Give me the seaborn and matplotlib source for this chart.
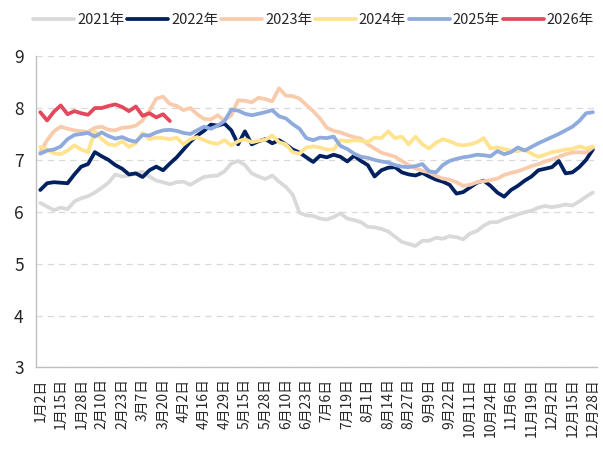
import matplotlib
matplotlib.use("Agg")
import matplotlib.pyplot as plt
import numpy as np
import pandas as pd
import seaborn as sns

# %% Data (one value every ~3 trading days)
tick_labels = ["1月2日", "1月15日", "1月28日", "2月10日", "2月23日", "3月7日", "3月20日",
               "4月2日", "4月16日", "4月29日", "5月15日", "5月28日", "6月10日", "6月23日",
               "7月6日", "7月19日", "8月1日", "8月14日", "8月27日", "9月9日", "9月22日",
               "10月11日", "10月24日", "11月6日", "11月19日", "12月2日", "12月15日", "12月28日"]

y2021 = [6.17, 6.10, 6.03, 6.08, 6.05, 6.20, 6.26, 6.30, 6.37, 6.46, 6.56, 6.72, 6.68, 6.70,
         6.74, 6.77, 6.68, 6.60, 6.57, 6.53, 6.57, 6.58, 6.52, 6.60, 6.67, 6.69, 6.70, 6.78,
         6.93, 6.98, 6.90, 6.74, 6.68, 6.63, 6.70, 6.58, 6.48, 6.33, 5.98, 5.93, 5.92, 5.87,
         5.85, 5.90, 5.97, 5.87, 5.84, 5.80, 5.71, 5.70, 5.67, 5.62, 5.52, 5.42, 5.38, 5.34,
         5.44, 5.44, 5.50, 5.48, 5.53, 5.51, 5.47, 5.58, 5.63, 5.73, 5.80, 5.80, 5.86, 5.90,
         5.95, 5.99, 6.02, 6.08, 6.11, 6.09, 6.11, 6.14, 6.12, 6.20, 6.29, 6.37]

y2022 = [6.42, 6.55, 6.57, 6.56, 6.55, 6.72, 6.87, 6.92, 7.15, 7.07, 7.00, 6.90, 6.83, 6.72,
         6.74, 6.67, 6.80, 6.87, 6.80, 6.93, 7.05, 7.20, 7.35, 7.47, 7.56, 7.68, 7.66, 7.70,
         7.57, 7.30, 7.55, 7.30, 7.36, 7.40, 7.32, 7.38, 7.30, 7.20, 7.14, 7.05, 6.96, 7.08,
         7.05, 7.10, 7.06, 6.97, 7.08, 6.98, 6.90, 6.68, 6.80, 6.85, 6.86, 6.76, 6.72, 6.70,
         6.75, 6.68, 6.62, 6.58, 6.52, 6.35, 6.38, 6.47, 6.56, 6.60, 6.50, 6.37, 6.29, 6.42,
         6.50, 6.60, 6.68, 6.80, 6.83, 6.86, 6.98, 6.74, 6.76, 6.86, 7.00, 7.20]

y2023 = [7.15, 7.38, 7.55, 7.64, 7.60, 7.57, 7.55, 7.54, 7.62, 7.64, 7.58, 7.57, 7.62, 7.63,
         7.66, 7.76, 7.95, 8.18, 8.22, 8.08, 8.04, 7.96, 8.00, 7.88, 7.79, 7.78, 7.86, 7.76,
         7.86, 8.15, 8.14, 8.11, 8.20, 8.17, 8.13, 8.38, 8.24, 8.23, 8.18, 8.06, 7.94, 7.80,
         7.62, 7.56, 7.53, 7.48, 7.44, 7.41, 7.30, 7.22, 7.14, 7.10, 7.06, 6.98, 6.90, 6.84,
         6.79, 6.76, 6.69, 6.64, 6.62, 6.57, 6.50, 6.52, 6.57, 6.59, 6.61, 6.64, 6.71, 6.75,
         6.78, 6.83, 6.88, 6.92, 6.97, 7.01, 7.06, 7.11, 7.14, 7.15, 7.14, 7.24]

y2024 = [7.25, 7.20, 7.13, 7.11, 7.18, 7.28, 7.20, 7.15, 7.55, 7.40, 7.30, 7.28, 7.36, 7.25,
         7.32, 7.52, 7.40, 7.43, 7.42, 7.40, 7.43, 7.30, 7.40, 7.44, 7.38, 7.33, 7.31, 7.38,
         7.28, 7.36, 7.40, 7.34, 7.37, 7.39, 7.47, 7.34, 7.30, 7.15, 7.12, 7.24, 7.26, 7.24,
         7.20, 7.20, 7.38, 7.36, 7.38, 7.37, 7.34, 7.43, 7.42, 7.55, 7.42, 7.45, 7.30, 7.45,
         7.30, 7.22, 7.33, 7.40, 7.36, 7.30, 7.28, 7.30, 7.34, 7.42, 7.22, 7.24, 7.21, 7.18,
         7.17, 7.20, 7.12, 7.06, 7.10, 7.15, 7.17, 7.20, 7.21, 7.26, 7.22, 7.26]

y2025 = [7.12, 7.18, 7.20, 7.26, 7.40, 7.48, 7.50, 7.52, 7.45, 7.53, 7.46, 7.41, 7.44, 7.38,
         7.35, 7.48, 7.47, 7.53, 7.57, 7.58, 7.56, 7.52, 7.50, 7.57, 7.64, 7.60, 7.66, 7.75,
         7.97, 7.95, 7.89, 7.86, 7.89, 7.92, 7.96, 7.84, 7.80, 7.69, 7.60, 7.42, 7.38, 7.43,
         7.42, 7.45, 7.27, 7.21, 7.12, 7.06, 7.04, 7.00, 6.97, 6.95, 6.90, 6.87, 6.86, 6.88,
         6.92, 6.78, 6.76, 6.90, 6.98, 7.02, 7.05, 7.07, 7.10, 7.09, 7.07, 7.17, 7.11, 7.15,
         7.24, 7.18, 7.25, 7.32, 7.38, 7.44, 7.50, 7.57, 7.64, 7.75, 7.90, 7.92]

y2026 = [7.92, 7.76, 7.93, 8.05, 7.88, 7.94, 7.90, 7.87, 8.00, 8.00, 8.04, 8.07, 8.02, 7.94,
         8.03, 7.85, 7.90, 7.82, 7.88, 7.75]

years = ["2021年", "2022年", "2023年", "2024年", "2025年", "2026年"]
colors = ["#D9D9D9", "#002060", "#F8CBAD", "#FFE38F", "#8FAADC", "#E4485C"]

# %% Long-form table
series = [y2021, y2022, y2023, y2024, y2025, y2026]
frames = []
for name, vals in zip(years, series):
    frames.append(pd.DataFrame({"idx": np.arange(len(vals)), "value": vals, "year": name}))
df = pd.concat(frames, ignore_index=True)

# %% Plot
sns.set_theme(style="white")
plt.rcParams["font.family"] = ["Noto Sans CJK SC", "DejaVu Sans"]

fig, ax = plt.subplots(figsize=(6.03, 4.68), dpi=100)
fig.subplots_adjust(left=0.06, right=0.99, top=0.88, bottom=0.215)

sns.lineplot(data=df, x="idx", y="value", hue="year", hue_order=years,
             palette=colors, linewidth=2.7, ax=ax)

ax.set_ylim(3, 9)
ax.set_yticks(range(3, 10))
ax.set_xlim(-0.6, 81.6)
ax.set_xticks(np.arange(0, 82, 3))
ax.set_xticklabels(tick_labels, rotation=90, fontsize=10)
ax.tick_params(axis="y", labelsize=12.5, length=0, pad=9)
ax.tick_params(axis="x", length=0, pad=8)
ax.set_xlabel("")
ax.set_ylabel("")
ax.grid(axis="y", color="#D9D9D9", linestyle=(0, (5, 4)), linewidth=0.9)
ax.grid(axis="x", visible=False)
for side in ["top", "right"]:
    ax.spines[side].set_visible(False)
for side in ["left", "bottom"]:
    ax.spines[side].set_color("#BFBFBF")
    ax.spines[side].set_linewidth(1)

ax.legend_.remove()
handles, labels = ax.get_legend_handles_labels()
fig.legend(handles, labels, loc="upper center", bbox_to_anchor=(0.52, 1.0), ncol=6,
           frameon=False, fontsize=10.5, handlelength=2.8, handletextpad=0.2,
           columnspacing=0.2)

fig.savefig("out.png", dpi=100)
